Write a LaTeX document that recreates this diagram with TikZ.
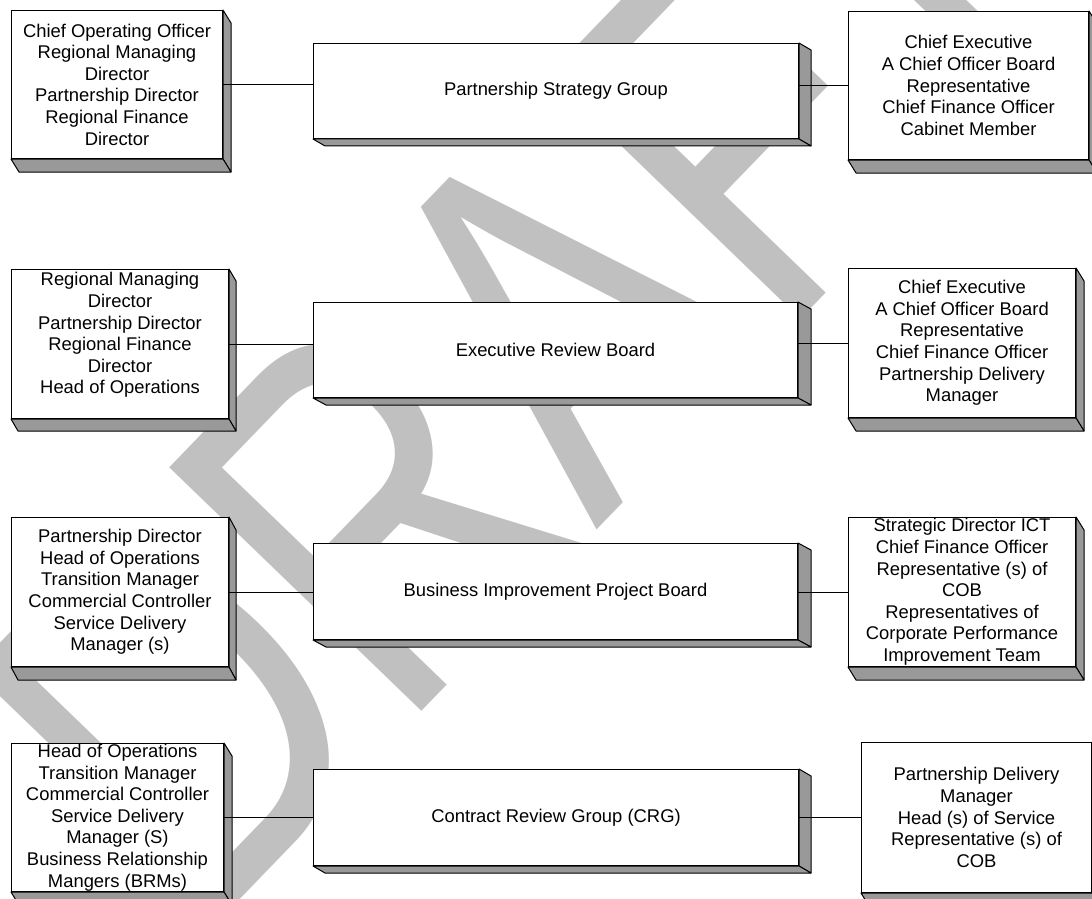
\documentclass[tikz,border=0pt]{standalone}
\usepackage{fontspec}
\usetikzlibrary{calc}
\newfontfamily\boxfont{Liberation Sans}
\newfontfamily\draftfont{Liberation Sans}[Kerning=Off]
\definecolor{sidegray}{HTML}{999999}
\definecolor{draftgray}{HTML}{C0C0C0}
% extruded right and bottom faces of a box
\newcommand{\slab}[3]{%
  \filldraw[sideface] (#1.north east) -- ++(#2,#3) -- ([shift={(#2,#3)}]#1.south east) -- (#1.south east) -- cycle;
  \filldraw[sideface] (#1.south west) -- ++(#2,#3) -- ([shift={(#2,#3)}]#1.south east) -- (#1.south east) -- cycle;
}
\tikzset{
  role/.style={draw=black, fill=white, line width=0.5pt, inner sep=0pt, anchor=north west,
    align=center, font=\boxfont\fontsize{9.2pt}{10.8pt}\selectfont},
  boxsize/.style 2 args={minimum width=#1*0.5pt, minimum height=#2*0.5pt},
  sideface/.style={fill=sidegray, draw=black, line width=0.5pt, line join=round},
  link/.style={draw=black, line width=0.5pt},
  draftmark/.style={anchor=base west, inner sep=0pt, rotate=46, yscale=1.3, text=draftgray,
    font=\draftfont\fontsize{196pt}{196pt}\selectfont},
}
\begin{document}
\begin{tikzpicture}[x=0.5pt, y=-0.5pt]
  \path[use as bounding box, fill=white] (0,0) rectangle (1092,899);
  % watermark
  \node[draftmark] (draft) at (203,938) {DRAFT};
  % row 1
  \node[role, boxsize={211}{148}] (psgA) at (11,10) {Chief Operating Officer\\Regional Managing\\Director\\Partnership Director\\Regional Finance\\Director};
  \node[role, boxsize={485}{95}] (psg) at (313,43) {Partnership Strategy Group};
  \node[role, boxsize={240}{148}] (psgB) at (848,11) {Chief Executive\\A Chief Officer Board\\Representative\\Chief Finance Officer\\Cabinet Member};
  % row 2
  \node[role, boxsize={217}{149}] (erbA) at (11,269) {Regional Managing\\Director\\Partnership Director\\Regional Finance\\Director\\Head of Operations\\\mbox{}};
  \node[role, boxsize={484}{95}] (erb) at (313,302) {Executive Review Board};
  \node[role, boxsize={227}{149}] (erbB) at (848,268) {Chief Executive\\A Chief Officer Board\\Representative\\Chief Finance Officer\\Partnership Delivery\\Manager};
  % row 3
  \node[role, boxsize={217}{149}] (bipbA) at (11,517) {Partnership Director\\Head of Operations\\Transition Manager\\Commercial Controller\\Service Delivery\\Manager (s)};
  \node[role, boxsize={484}{96}] (bipb) at (313,543) {Business Improvement Project Board};
  \node[role, boxsize={227}{149}] (bipbB) at (848,517) {Strategic Director ICT\\Chief Finance Officer\\Representative (s) of\\COB\\Representatives of\\Corporate Performance\\Improvement Team};
  % row 4
  \node[role, boxsize={212}{148}] (crgA) at (11,743) {Head of Operations\\Transition Manager\\Commercial Controller\\Service Delivery\\Manager (S)\\Business Relationship\\Mangers (BRMs)};
  \node[role, boxsize={485}{96}] (crg) at (313,769) {Contract Review Group (CRG)};
  \node[role, boxsize={230}{150}] (crgB) at (861,742) {Partnership Delivery\\Manager\\Head (s) of Service\\Representative (s) of\\COB};
  % side faces
  \foreach \n/\dx/\dy in {psgA/8/13, psg/12/7, psgB/8/13, erbA/7/12, erb/13/7, erbB/8/13,
                          bipbA/7/13, bipb/13/7, bipbB/8/13, crgA/8/13, crg/12/7, crgB/8/13}
    \slab{\n}{\dx}{\dy};
  % connectors
  \foreach \g in {psg, erb, bipb, crg}{
    \draw[link] (\g A.east) -- (\g A.east -| \g.west);
    \draw[link] (\g B.west -| \g.east) -- (\g B.west);
  }
\end{tikzpicture}
\end{document}
